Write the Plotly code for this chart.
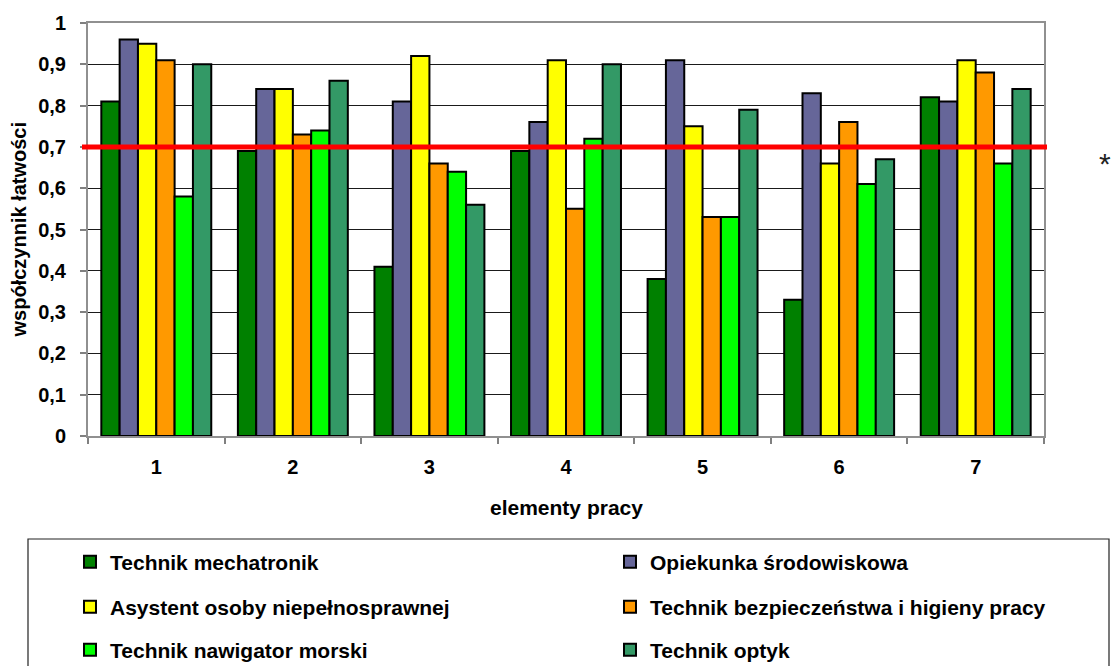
import plotly.graph_objects as go

# elementy pracy (kategorie na osi X)
elementy = ["1", "2", "3", "4", "5", "6", "7"]

# wartości współczynnika łatwości dla każdego zawodu
mechatronik = [0.81, 0.69, 0.41, 0.69, 0.38, 0.33, 0.82]
opiekunka = [0.96, 0.84, 0.81, 0.76, 0.91, 0.83, 0.81]
asystent = [0.95, 0.84, 0.92, 0.91, 0.75, 0.66, 0.91]
bhp = [0.91, 0.73, 0.66, 0.55, 0.53, 0.76, 0.88]
nawigator = [0.58, 0.74, 0.64, 0.72, 0.53, 0.61, 0.66]
optyk = [0.90, 0.86, 0.56, 0.90, 0.79, 0.67, 0.84]

nazwy = ["Technik mechatronik", "Opiekunka środowiskowa",
         "Asystent osoby niepełnosprawnej", "Technik bezpieczeństwa i higieny pracy",
         "Technik nawigator morski", "Technik optyk"]
serie = [mechatronik, opiekunka, asystent, bhp, nawigator, optyk]
kolory = ["#008000", "#666699", "#FFFF00", "#FF9900", "#00FF00", "#339966"]

prog = 0.7  # próg łatwości (czerwona linia)

y_ticks = [0, 0.1, 0.2, 0.3, 0.4, 0.5, 0.6, 0.7, 0.8, 0.9, 1]
y_labels = ["0", "0,1", "0,2", "0,3", "0,4", "0,5", "0,6", "0,7", "0,8", "0,9", "1"]

FONT = "Liberation Sans, Arial, sans-serif"

# geometria w pikselach (margines strony zerowany w post_script)
W, H = 1112, 666
L, R, T, B = 88, 1044, 23, 436
PW, PH = R - L, B - T


def px_x(p):
    return (p - L) / PW


def px_y(p):
    return (B - p) / PH


fig = go.Figure()

# pozycje legend: 3 wiersze x 2 kolumny
leg_rows = [562, 607, 650]
leg_cols = [70, 610]

for i, (nazwa, wart, kol) in enumerate(zip(nazwy, serie, kolory)):
    leg_id = "legend" if i == 0 else f"legend{i + 1}"
    fig.add_trace(go.Bar(
        x=elementy, y=wart, name="<b>%s</b>" % nazwa,
        marker=dict(color=kol, line=dict(color="black", width=2)),
        legend=leg_id,
    ))
    fig.update_layout({leg_id: dict(
        x=px_x(leg_cols[i % 2]), y=px_y(leg_rows[i // 2]),
        xanchor="left", yanchor="middle",
        orientation="v", bgcolor="rgba(0,0,0,0)", borderwidth=0,
        font=dict(family=FONT, size=21, color="black"),
    )})

# czerwona linia progu
fig.add_shape(type="line", xref="paper", yref="y",
              x0=px_x(82), x1=px_x(1047), y0=prog, y1=prog,
              line=dict(color="#FF0000", width=5))

# ramka legendy
fig.add_shape(type="rect", xref="paper", yref="paper",
              x0=px_x(28), x1=px_x(1109), y0=px_y(539), y1=px_y(720),
              line=dict(color="#222222", width=1.2))

# tytuły osi
fig.add_annotation(text="<b>współczynnik łatwości</b>", xref="paper", yref="paper",
                   x=px_x(18), y=0.5, textangle=-90, showarrow=False,
                   xanchor="center", yanchor="middle",
                   font=dict(family=FONT, size=20, color="black"))
fig.add_annotation(text="<b>elementy pracy</b>", xref="paper", yref="paper",
                   x=0.5, y=px_y(507), showarrow=False,
                   xanchor="center", yanchor="middle",
                   font=dict(family=FONT, size=21, color="black"))
fig.add_annotation(text="*", xref="paper", yref="paper",
                   x=px_x(1105), y=px_y(163), showarrow=False,
                   xanchor="center", yanchor="middle",
                   font=dict(family=FONT, size=30, color="#222222"))

fig.update_layout(
    width=W, height=H,
    margin=dict(l=L, r=W - R, t=T, b=H - B, autoexpand=False),
    paper_bgcolor="white", plot_bgcolor="white",
    barmode="group", bargap=0.195, bargroupgap=0,
    showlegend=True,
    font=dict(family=FONT, color="black"),
)

fig.update_xaxes(
    type="category", tickson="boundaries", ticks="outside", ticklen=6,
    tickcolor="#808080", tickwidth=1.5,
    showline=True, linecolor="#909090", linewidth=2, mirror=True,
    showgrid=False, tickfont=dict(family=FONT, size=20, color="black"),
    ticklabelstandoff=12,
    ticktext=["<b>%s</b>" % e for e in elementy], tickvals=elementy,
)
fig.update_yaxes(
    range=[0, 1], tickvals=y_ticks, ticktext=["<b>%s</b>" % t for t in y_labels],
    ticks="outside", ticklen=6, tickcolor="#808080", tickwidth=1.5,
    showline=True, linecolor="#909090", linewidth=2, mirror=True,
    showgrid=True, gridcolor="#1a1a1a", gridwidth=1, zeroline=False,
    tickfont=dict(family=FONT, size=20, color="black"),
    ticklabelstandoff=10,
)

fig.write_html(
    "out.html",
    config={"displayModeBar": False},
    post_script="document.body.style.margin='0';document.body.style.overflow='hidden';",
)
